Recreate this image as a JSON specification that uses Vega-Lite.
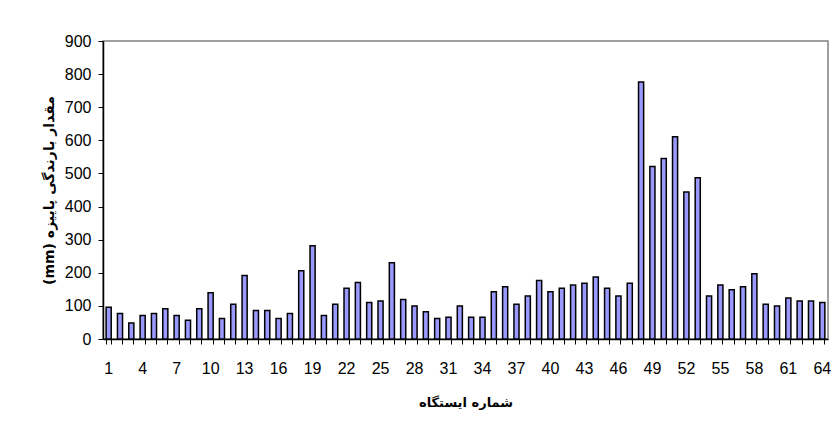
{
  "$schema": "https://vega.github.io/schema/vega-lite/v6.json",
  "autosize": {"type": "none"},
  "padding": {"left": 103, "top": 41, "right": 5, "bottom": 98},
  "width": 725,
  "height": 298,
  "background": "white",
  "config": {
    "view": {"stroke": "#808080", "strokeWidth": 1.5},
    "font": "Liberation Sans"
  },
  "data": {
    "values": [
      {"station": 1, "rain": 96}, {"station": 2, "rain": 77}, {"station": 3, "rain": 48}, {"station": 4, "rain": 71},
      {"station": 5, "rain": 77}, {"station": 6, "rain": 91}, {"station": 7, "rain": 71}, {"station": 8, "rain": 57},
      {"station": 9, "rain": 91}, {"station": 10, "rain": 140}, {"station": 11, "rain": 62}, {"station": 12, "rain": 105},
      {"station": 13, "rain": 192}, {"station": 14, "rain": 86}, {"station": 15, "rain": 86}, {"station": 16, "rain": 62},
      {"station": 17, "rain": 77}, {"station": 18, "rain": 206}, {"station": 19, "rain": 282}, {"station": 20, "rain": 71},
      {"station": 21, "rain": 105}, {"station": 22, "rain": 153}, {"station": 23, "rain": 171}, {"station": 24, "rain": 110},
      {"station": 25, "rain": 115}, {"station": 26, "rain": 230}, {"station": 27, "rain": 119}, {"station": 28, "rain": 100},
      {"station": 29, "rain": 82}, {"station": 30, "rain": 62}, {"station": 31, "rain": 66}, {"station": 32, "rain": 100},
      {"station": 33, "rain": 66}, {"station": 34, "rain": 66}, {"station": 35, "rain": 143}, {"station": 36, "rain": 158},
      {"station": 37, "rain": 105}, {"station": 38, "rain": 130}, {"station": 39, "rain": 177}, {"station": 40, "rain": 143},
      {"station": 41, "rain": 153}, {"station": 42, "rain": 163}, {"station": 43, "rain": 168}, {"station": 44, "rain": 187},
      {"station": 45, "rain": 153}, {"station": 46, "rain": 130}, {"station": 47, "rain": 168}, {"station": 48, "rain": 776},
      {"station": 49, "rain": 521}, {"station": 50, "rain": 545}, {"station": 51, "rain": 611}, {"station": 52, "rain": 444},
      {"station": 53, "rain": 487}, {"station": 54, "rain": 130}, {"station": 55, "rain": 163}, {"station": 56, "rain": 149},
      {"station": 57, "rain": 158}, {"station": 58, "rain": 197}, {"station": 59, "rain": 105}, {"station": 60, "rain": 100},
      {"station": 61, "rain": 124}, {"station": 62, "rain": 115}, {"station": 63, "rain": 115}, {"station": 64, "rain": 110}
    ]
  },
  "mark": {"type": "bar", "fill": "#9999FF", "stroke": "#000000", "strokeWidth": 1.5},
  "encoding": {
    "x": {
      "field": "station",
      "type": "ordinal",
      "scale": {"paddingInner": 0.55, "paddingOuter": 0.275},
      "axis": {
        "title": "شماره ایستگاه",
        "titleFont": "DejaVu Sans",
        "titleFontSize": 13,
        "titleFontWeight": "bold",
        "titleColor": "#000000",
        "titlePadding": 20,
        "labelAngle": 0,
        "labelFontSize": 16,
        "labelColor": "#000000",
        "labelPadding": 16,
        "labelExpr": "(datum.value - 1) % 3 === 0 ? datum.label : ''",
        "bandPosition": 1,
        "tickExtra": true,
        "tickSize": 5,
        "tickColor": "#000000",
        "domainColor": "#000000",
        "domainWidth": 1.5
      }
    },
    "y": {
      "field": "rain",
      "type": "quantitative",
      "scale": {"domain": [0, 900], "nice": false},
      "axis": {
        "title": "(mm) مقدار بارندگی پاییزه",
        "titleFont": "DejaVu Sans",
        "titleFontSize": 14,
        "titleFontWeight": "bold",
        "titleColor": "#000000",
        "titlePadding": 8,
        "values": [0, 100, 200, 300, 400, 500, 600, 700, 800, 900],
        "grid": false,
        "labelFontSize": 16,
        "labelColor": "#000000",
        "labelPadding": 7,
        "tickSize": 5,
        "tickColor": "#000000",
        "domainColor": "#000000",
        "domainWidth": 1.5
      }
    }
  }
}
